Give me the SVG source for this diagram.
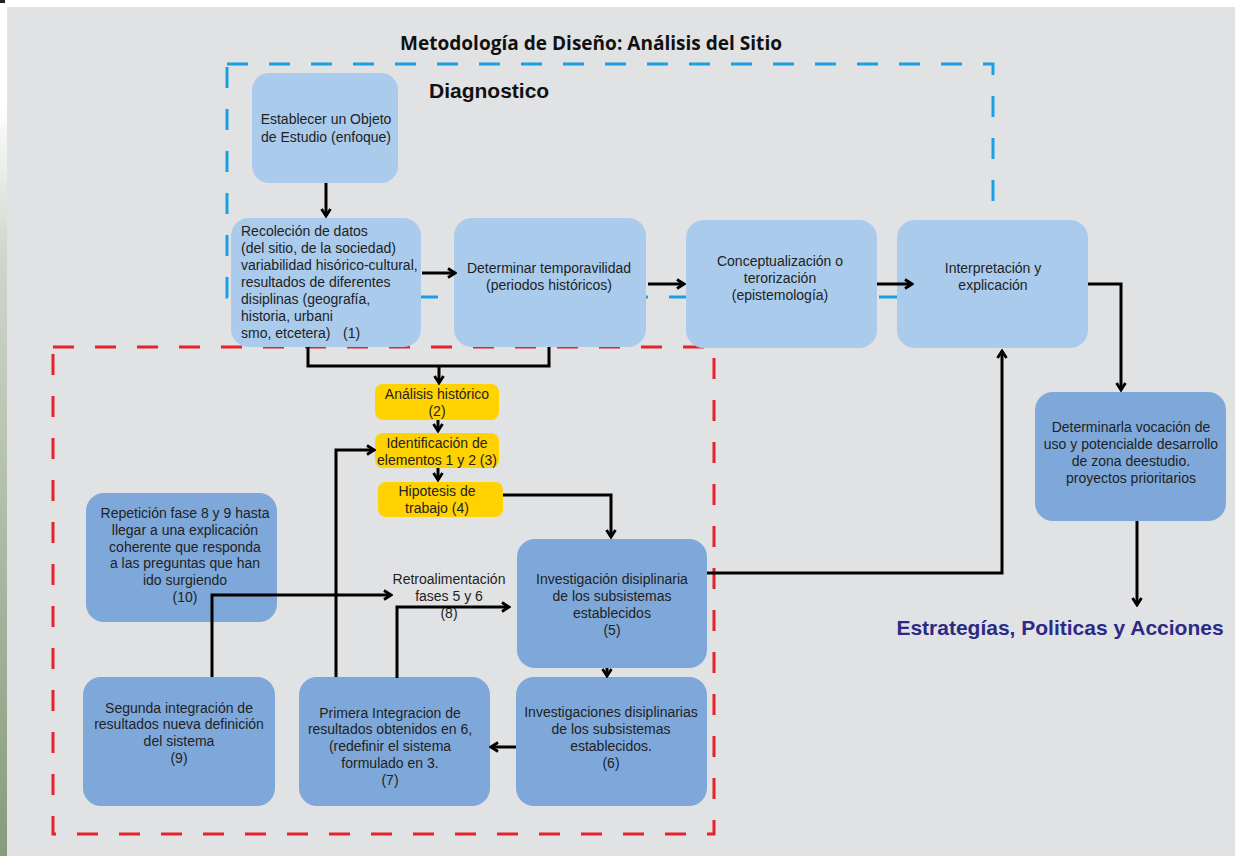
<svg xmlns="http://www.w3.org/2000/svg" width="1235" height="856" viewBox="0 0 1235 856">
<defs>
<linearGradient id="lg" x1="0" y1="0" x2="0" y2="1">
<stop offset="0" stop-color="#ffffff"/>
<stop offset="0.12" stop-color="#ffffff"/>
<stop offset="0.3" stop-color="#cfd6cb"/>
<stop offset="1" stop-color="#869c7b"/>
</linearGradient>
<marker id="arr" viewBox="0 0 12 12" refX="10" refY="6" markerWidth="12" markerHeight="12" markerUnits="userSpaceOnUse" orient="auto">
<path d="M3,1.5 L10,6 L3,10.5" fill="none" stroke="#000" stroke-width="2.8"/>
</marker>
<style>
.t{font-family:"Liberation Sans",Arial,sans-serif;font-size:14px;fill:#222;}
.c{text-anchor:middle;}
.lb{fill:#aacbec;}
.db{fill:#7ea8da;}
.yl{fill:#ffd200;}
.cn{fill:none;stroke:#000;stroke-width:3;}
.dash{fill:none;stroke-width:3;stroke-dasharray:21 21;}
</style>
</defs>
<rect x="0" y="0" width="1235" height="856" fill="#ffffff"/>
<rect x="0" y="0" width="7" height="856" fill="url(#lg)"/>
<rect x="0" y="0" width="5" height="3" fill="#222"/>
<rect x="7" y="7" width="1228" height="849" fill="#e1e2e4"/>

<text x="591" y="50" text-anchor="middle" textLength="382" lengthAdjust="spacingAndGlyphs" style="font-family:'Open Sans','Noto Sans',sans-serif;font-weight:bold;font-size:19px;fill:#111;">Metodología de Diseño: Análisis del Sitio</text>
<text x="429" y="98" style="font-family:'Liberation Sans',Arial,sans-serif;font-weight:bold;font-size:21px;fill:#111;">Diagnostico</text>
<text x="1060" y="635" text-anchor="middle" style="font-family:'Liberation Sans',Arial,sans-serif;font-weight:bold;font-size:21px;fill:#2b2a86;">Estrategías, Politicas y Acciones</text>

<rect x="227" y="64" width="766" height="233" class="dash" stroke="#1a9fe2"/>
<rect x="53" y="347" width="661" height="487" class="dash" stroke="#e8212b"/>

<g id="n-objeto"><rect x="252" y="73" width="146" height="110" rx="17" class="lb"/>
<text class="t c" x="326" y="124">Establecer un Objeto</text><text class="t c" x="326" y="142">de Estudio (enfoque)</text></g>

<g id="n-recoleccion"><rect x="231" y="218" width="190" height="129" rx="18" class="lb"/>
<text class="t" x="241" y="236">Recoleción de datos</text>
<text class="t" x="241" y="253">(del sitio, de la sociedad)</text>
<text class="t" x="241" y="270">variabilidad hisórico-cultural,</text>
<text class="t" x="241" y="287">resultados de diferentes</text>
<text class="t" x="241" y="304">disiplinas (geografía,</text>
<text class="t" x="241" y="321">historia, urbani</text>
<text class="t" x="241" y="338">smo, etcetera)</text>
<text class="t" x="343" y="338">(1)</text></g>

<g id="n-temporalidad"><rect x="454" y="218" width="192" height="129" rx="18" class="lb"/>
<text class="t c" x="549" y="273">Determinar temporavilidad</text><text class="t c" x="549" y="290">(periodos históricos)</text></g>

<g id="n-conceptualizacion"><rect x="686" y="220" width="191" height="128" rx="18" class="lb"/>
<text class="t c" x="780" y="266">Conceptualización o</text><text class="t c" x="780" y="283">terorización</text><text class="t c" x="780" y="300">(epistemología)</text></g>

<g id="n-interpretacion"><rect x="897" y="220" width="191" height="128" rx="18" class="lb"/>
<text class="t c" x="993" y="273">Interpretación y</text><text class="t c" x="993" y="290">explicación</text></g>

<g id="n-vocacion"><rect x="1035" y="392" width="191" height="129" rx="18" class="db"/>
<text class="t c" x="1131" y="432">Determinarla vocación de</text><text class="t c" x="1131" y="449">uso y potencialde desarrollo</text><text class="t c" x="1131" y="466">de zona deestudio.</text><text class="t c" x="1131" y="483">proyectos prioritarios</text></g>

<g id="n-analisis"><rect x="375" y="384" width="124" height="36" rx="8" class="yl"/>
<text class="t c" x="437" y="399">Análisis histórico</text><text class="t c" x="437" y="416">(2)</text></g>

<g id="n-identificacion"><rect x="375" y="433" width="124" height="35" rx="8" class="yl"/>
<text class="t c" x="437" y="448">Identificación de</text><text class="t c" x="437" y="465">elementos 1 y 2 (3)</text></g>

<g id="n-hipotesis"><rect x="378" y="482" width="125" height="35" rx="8" class="yl"/>
<text class="t c" x="437" y="496">Hipotesis de</text><text class="t c" x="437" y="513">trabajo (4)</text></g>

<g id="n-repeticion"><rect x="86" y="493" width="191" height="129" rx="18" class="db"/>
<text class="t c" x="185" y="518">Repetición fase 8 y 9 hasta</text><text class="t c" x="185" y="535">llegar a una explicación</text><text class="t c" x="185" y="552">coherente que responda</text><text class="t c" x="185" y="568">a las preguntas que han</text><text class="t c" x="185" y="585">ido surgiendo</text><text class="t c" x="185" y="602">(10)</text></g>

<g id="n-investigacion5"><rect x="517" y="539" width="190" height="129" rx="18" class="db"/>
<text class="t c" x="612" y="584">Investigación disiplinaria</text><text class="t c" x="612" y="601">de los subsistemas</text><text class="t c" x="612" y="618">establecidos</text><text class="t c" x="612" y="635">(5)</text></g>

<g id="n-retro"><text class="t c" x="449" y="584">Retroalimentación</text><text class="t c" x="449" y="601">fases 5 y 6</text><text class="t c" x="449" y="618">(8)</text></g>

<g id="n-segunda"><rect x="83" y="677" width="192" height="129" rx="18" class="db"/>
<text class="t c" x="179" y="713">Segunda integración de</text><text class="t c" x="179" y="729">resultados nueva definición</text><text class="t c" x="179" y="746">del sistema</text><text class="t c" x="179" y="763">(9)</text></g>

<g id="n-primera"><rect x="299" y="677" width="191" height="129" rx="18" class="db"/>
<text class="t c" x="390" y="718">Primera Integracion de</text><text class="t c" x="390" y="734">resultados obtenidos en 6,</text><text class="t c" x="390" y="751">(redefinir el sistema</text><text class="t c" x="390" y="768">formulado en 3.</text><text class="t c" x="390" y="785">(7)</text></g>

<g id="n-investigaciones6"><rect x="516" y="677" width="191" height="129" rx="18" class="db"/>
<text class="t c" x="611" y="717">Investigaciones disiplinarias</text><text class="t c" x="611" y="734">de los subsistemas</text><text class="t c" x="611" y="751">establecidos.</text><text class="t c" x="611" y="768">(6)</text></g>

<g id="connectors">
<path class="cn" d="M326,183 V216" marker-end="url(#arr)"/>
<path class="cn" d="M422,273 H455" marker-end="url(#arr)"/>
<path class="cn" d="M648,284 H684" marker-end="url(#arr)"/>
<path class="cn" d="M877,284 H912" marker-end="url(#arr)"/>
<path class="cn" d="M1088,284 H1121 V390" marker-end="url(#arr)"/>
<path class="cn" d="M1137,521 V605" marker-end="url(#arr)"/>
<path class="cn" d="M308,347 V366 H549 V347"/>
<path class="cn" d="M439,366 V383" marker-end="url(#arr)"/>
<path class="cn" d="M438,420 V431" marker-end="url(#arr)"/>
<path class="cn" d="M438,468 V480" marker-end="url(#arr)"/>
<path class="cn" d="M503,495 H611 V537" marker-end="url(#arr)"/>
<path class="cn" d="M707,573 H1002 V351" marker-end="url(#arr)"/>
<path class="cn" d="M607,668 V676" marker-end="url(#arr)"/>
<path class="cn" d="M516,747 H491" marker-end="url(#arr)"/>
<path class="cn" d="M397,678 V607 H509" marker-end="url(#arr)"/>
<path class="cn" d="M336,677 V450 H374" marker-end="url(#arr)"/>
<path class="cn" d="M212,677 V595 H391" marker-end="url(#arr)"/>
</g>
</svg>
